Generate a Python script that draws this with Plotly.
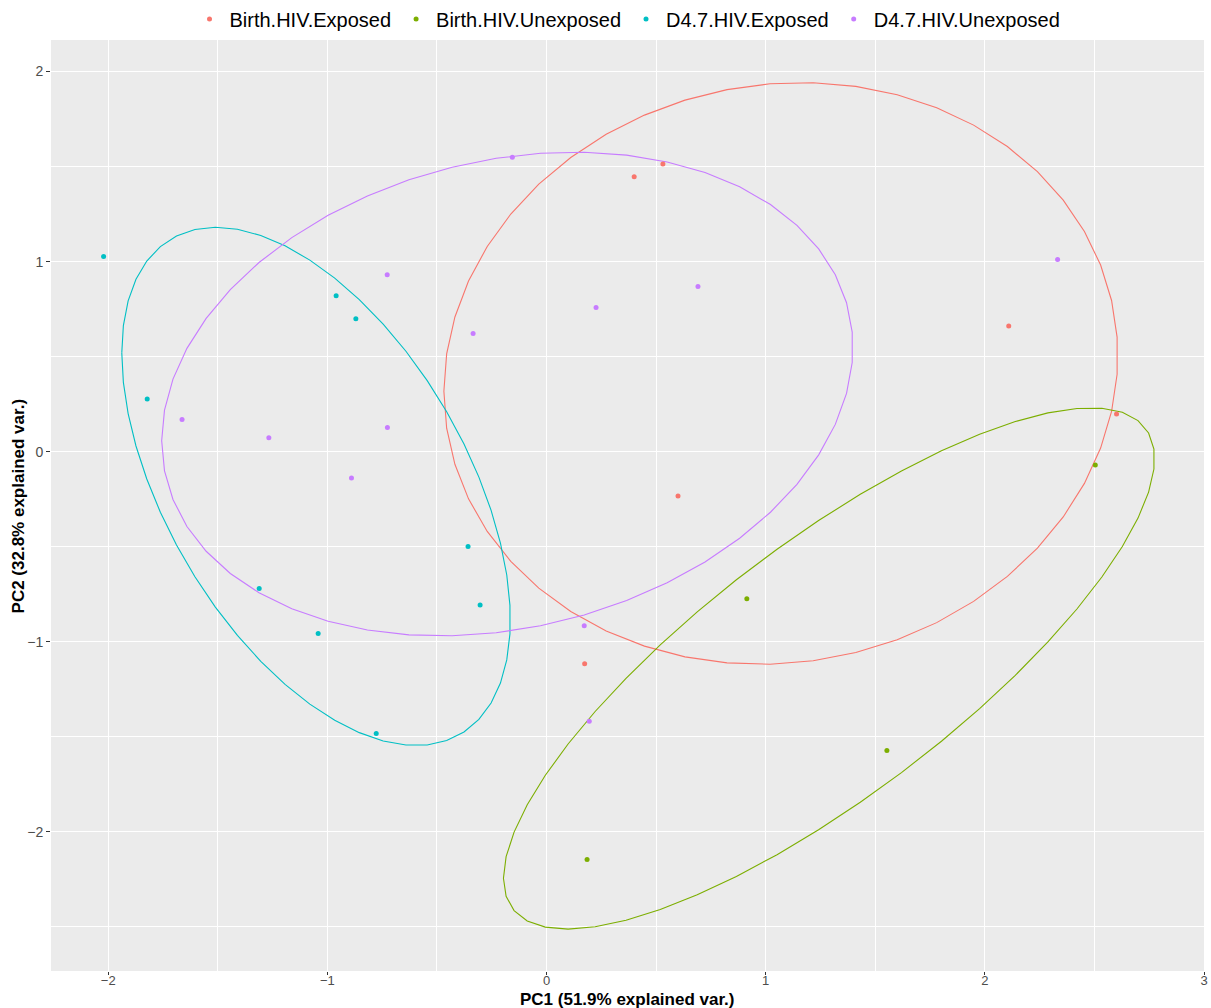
import numpy as np
import plotly.graph_objects as go

groups = ["Birth.HIV.Exposed", "Birth.HIV.Unexposed", "D4.7.HIV.Exposed", "D4.7.HIV.Unexposed"]
colors = ["#F8766D", "#7CAE00", "#00BFC4", "#C77CFF"]

birth_exp_pc1 = [0.400, 0.531, 2.109, 2.601, 0.600, 0.174]
birth_exp_pc2 = [1.447, 1.513, 0.661, 0.198, -0.233, -1.115]

birth_unexp_pc1 = [2.504, 0.914, 1.553, 0.185]
birth_unexp_pc2 = [-0.070, -0.774, -1.572, -2.145]

d47_exp_pc1 = [-2.021, -1.822, -0.960, -0.870, -0.358, -0.303, -1.311, -1.042, -0.777]
d47_exp_pc2 = [1.027, 0.277, 0.820, 0.699, -0.499, -0.806, -0.720, -0.957, -1.483]

d47_unexp_pc1 = [-0.156, -0.727, -0.335, 0.226, 0.691, 2.332, -1.663, -1.267, -0.726, -0.890, 0.172, 0.195]
d47_unexp_pc2 = [1.549, 0.931, 0.622, 0.759, 0.869, 1.011, 0.170, 0.074, 0.128, -0.138, -0.915, -1.418]

series = [
    (birth_exp_pc1, birth_exp_pc2),
    (birth_unexp_pc1, birth_unexp_pc2),
    (d47_exp_pc1, d47_exp_pc2),
    (d47_unexp_pc1, d47_unexp_pc2),
]

ellipse_prob = 0.68
ed = np.sqrt(-2 * np.log(1 - ellipse_prob))  # chi-square quantile, df=2

fig = go.Figure()
theta = np.linspace(-np.pi, np.pi, 50)
circle = np.column_stack([np.cos(theta), np.sin(theta)])

for name, col, (xs, ys) in zip(groups, colors, series):
    pts = np.column_stack([xs, ys])
    mu = pts.mean(axis=0)
    sigma = np.cov(pts, rowvar=False)
    R = np.linalg.cholesky(sigma).T
    ell = circle @ R * ed + mu
    fig.add_trace(go.Scatter(x=ell[:, 0], y=ell[:, 1], mode="lines",
                             line=dict(color=col, width=1.1), showlegend=False,
                             hoverinfo="skip", legendgroup=name))

for name, col, (xs, ys) in zip(groups, colors, series):
    fig.add_trace(go.Scatter(x=xs, y=ys, mode="markers", name=name,
                             marker=dict(color=col, size=5), legendgroup=name))

font_main = "Liberation Sans, Arial, sans-serif"

fig.update_layout(
    width=1211, height=1008,
    margin=dict(l=51, r=7, t=40, b=37, autoexpand=False),
    paper_bgcolor="white", plot_bgcolor="#EBEBEB",
    font=dict(family=font_main, color="#4D4D4D"),
    legend=dict(orientation="h", x=0.5, xanchor="center", y=1.0226, yanchor="middle",
                font=dict(size=20, color="black"),
                itemwidth=30, tracegroupgap=0, bgcolor="rgba(0,0,0,0)"),
    showlegend=True,
    annotations=[
        dict(text="<b>PC1 (51.9% explained var.)</b>", xref="paper", yref="paper",
             x=0.5, y=-0.0301, xanchor="center", yanchor="middle", showarrow=False,
             font=dict(size=17, color="black")),
        dict(text="<b>PC2 (32.8% explained var.)</b>", xref="paper", yref="paper",
             x=-0.0278, y=0.5, xanchor="center", yanchor="middle", showarrow=False,
             textangle=-90, font=dict(size=17, color="black")),
    ],
)
fig.update_xaxes(range=[-2.261, 3.0], tickvals=[-2, -1, 0, 1, 2, 3], showgrid=True,
                 gridcolor="white", gridwidth=1.2, zeroline=False, automargin=False,
                 ticks="outside", ticklen=3, tickcolor="#333333",
                 tickfont=dict(size=13, color="#4D4D4D"),
                 minor=dict(dtick=0.5, tick0=-2.5, showgrid=True, gridcolor="white", gridwidth=0.5, ticks=""))
try:
    fig.update_xaxes(ticklabelstandoff=-6)
except Exception:
    pass
fig.update_yaxes(range=[-2.732, 2.166], tickvals=[-2, -1, 0, 1, 2], showgrid=True,
                 gridcolor="white", gridwidth=1.2, zeroline=False, automargin=False,
                 ticks="outside", ticklen=4, tickcolor="#333333",
                 tickfont=dict(size=14, color="#4D4D4D"),
                 minor=dict(dtick=0.5, tick0=-2.5, showgrid=True, gridcolor="white", gridwidth=0.5, ticks=""))

fig.write_html("out.html")
